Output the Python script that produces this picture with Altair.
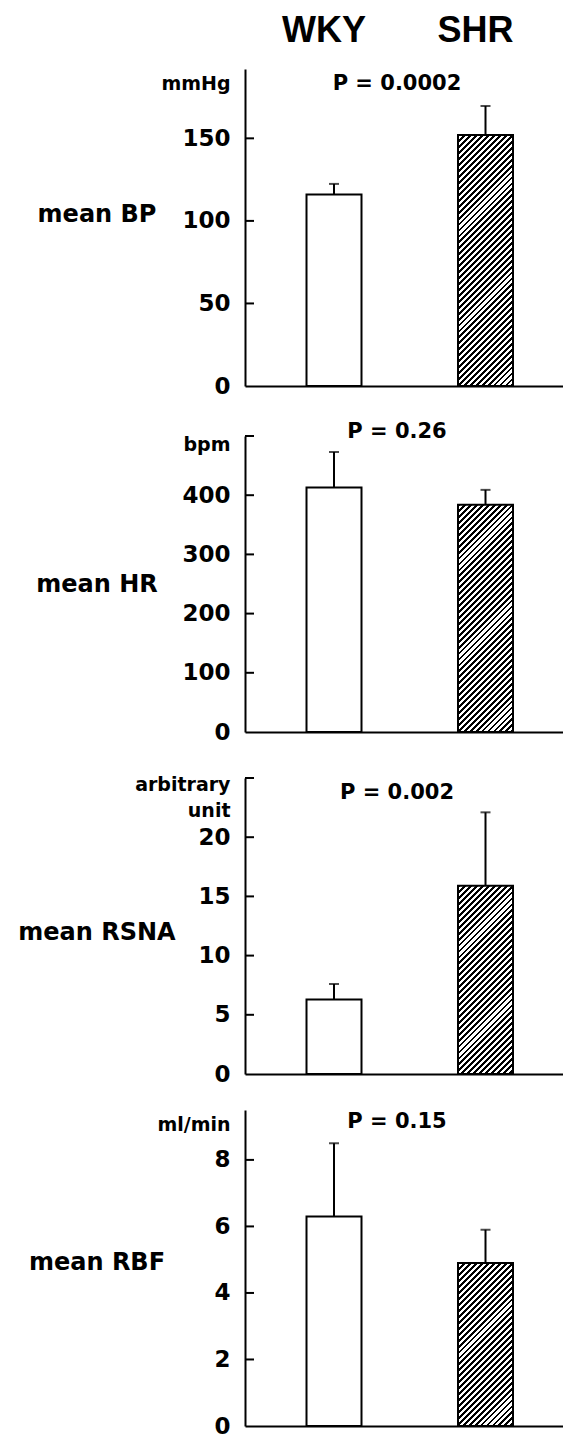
import math
import altair as alt
import pandas as pd

# ---- data ----
groups = ["WKY", "SHR"]

bp_mean = [116, 152]
bp_sem = [6.4, 17.6]
hr_mean = [413, 384]
hr_sem = [60, 25]
rsna_mean = [6.3, 15.9]
rsna_sem = [1.3, 6.2]
rbf_mean = [6.3, 4.9]
rbf_sem = [2.2, 1.0]

row_labels = ["mean BP", "mean HR", "mean RSNA", "mean RBF"]
units = ["mmHg", "bpm", ["arbitrary", "unit"], "ml/min"]
p_texts = ["P  =  0.0002", "P  =  0.26", "P  =  0.002", "P  =  0.15"]
axis_max = [192, 500, 25, 9.5]
label_values = [[0, 50, 100, 150], [0, 100, 200, 300, 400],
                [0, 5, 10, 15, 20], [0, 2, 4, 6, 8]]
tick_values = [[50, 100, 150], [100, 200, 300, 400, 500],
               [5, 10, 15, 20, 25], [2, 4, 6, 8]]

means = [bp_mean, hr_mean, rsna_mean, rbf_mean]
sems = [bp_sem, hr_sem, rsna_sem, rbf_sem]

# ---- layout / style ----
W = 318
heights = [317, 296, 296, 316]
top_gap = [69, 30, 26, 16]
title_y = [5, -1, -3, 5]
p_y = [15, -4, 15, 12]
label_y = [146, 149, 155, 153]
FONT = "DejaVu Sans"
P_INNER, P_OUTER, ALIGN = 0.637, 0.368, 0.5516


def bandwidth():
    step = W / (2 - P_INNER + 2 * P_OUTER)
    return step * (1 - P_INNER)


def hatch(w, h, period=4.2, ink=2.0):
    L = (w + h) / math.sqrt(2)
    s = (w + h) / (w * w + h * h)
    n = int(math.ceil(L / period))
    stops = []
    for k in range(n):
        a = min(k * period / L, 1)
        b = min((k * period + ink) / L, 1)
        c = min((k + 1) * period / L, 1)
        stops += [
            alt.GradientStop(offset=a, color="black"),
            alt.GradientStop(offset=b, color="black"),
            alt.GradientStop(offset=b, color="white"),
            alt.GradientStop(offset=c, color="white"),
        ]
    return alt.LinearGradient(gradient="linear", stops=stops,
                              x1=0, y1=0, x2=s * w, y2=s * h)


def panel(i):
    H = heights[i]
    ymax = axis_max[i]
    df = pd.DataFrame({
        "group": groups,
        "mean": means[i],
        "upper": [m + s for m, s in zip(means[i], sems[i])],
    })
    yscale = alt.Scale(domain=[0, ymax], nice=False, zero=True)
    xscale = alt.Scale(domain=groups, paddingInner=P_INNER,
                       paddingOuter=P_OUTER, align=ALIGN)
    x_axis = alt.Axis(labels=False, ticks=False, title=None,
                      domainColor="black", domainWidth=2, grid=False)
    y_axis = alt.Axis(
        values=label_values[i], ticks=False, tickSize=0, labelPadding=15,
        labelFont=FONT, labelFontWeight="bold", labelFontSize=23,
        labelColor="black", domainColor="black", domainWidth=2, grid=False,
        title=units[i], titleAngle=0, titleAlign="right", titleBaseline="top",
        titleX=-15, titleY=title_y[i], titleFont=FONT, titleFontWeight="bold",
        titleFontSize=19, titleColor="black", titleLineHeight=26)

    def X():
        return alt.X("group:N", sort=groups, scale=xscale, axis=x_axis)

    def Y(field):
        return alt.Y(field, scale=yscale, axis=y_axis)

    base = alt.Chart(df)

    anchor = base.mark_rule(strokeOpacity=0, strokeWidth=1).encode(
        x=alt.value(-245), y=alt.value(-top_gap[i]), y2=alt.value(H + 20))

    wky = base.mark_bar(fill="white", stroke="black", strokeWidth=2).encode(
        x=X(), y=Y("mean:Q")).transform_filter(alt.datum.group == "WKY")

    h_shr = means[i][1] / ymax * H
    shr = base.mark_bar(fill=hatch(bandwidth(), h_shr), stroke="black",
                        strokeWidth=2).encode(
        x=X(), y=Y("mean:Q")).transform_filter(alt.datum.group == "SHR")

    err = base.mark_rule(color="black", strokeWidth=2).encode(
        x=X(), y=Y("mean:Q"), y2="upper:Q")
    cap = base.mark_tick(color="black", size=10, thickness=2).encode(
        x=X(), y=Y("upper:Q"))

    tdf = pd.DataFrame({"v": tick_values[i]})
    ticks = alt.Chart(tdf).mark_rule(color="black", strokeWidth=2).encode(
        y=Y("v:Q"), x=alt.value(0), x2=alt.value(9))

    ptext = alt.Chart(pd.DataFrame({"t": [p_texts[i]]})).mark_text(
        font=FONT, fontWeight="bold", fontSize=21, color="black",
        align="center", baseline="middle").encode(
        text="t:N", x=alt.value(152), y=alt.value(p_y[i]))

    rlabel = alt.Chart(pd.DataFrame({"t": [row_labels[i]]})).mark_text(
        font=FONT, fontWeight="bold", fontSize=24, color="black",
        align="center", baseline="middle").encode(
        text="t:N", x=alt.value(-148), y=alt.value(label_y[i]))

    layers = [anchor, wky, shr, err, cap, ticks, ptext, rlabel]
    if i == 0:
        header = base.mark_text(font="Liberation Sans", fontWeight="bold",
                                fontSize=36, color="black", dx=-10,
                                baseline="middle").encode(
            x=X(), y=alt.value(-38), text="group:N")
        layers.append(header)

    return alt.layer(*layers).properties(width=W, height=H)


chart = alt.vconcat(*[panel(i) for i in range(4)], spacing=0).properties(
    padding=0, background="white"
).configure_view(stroke=None)

chart.save("out.html", embed_options={"renderer": "svg", "actions": False})
